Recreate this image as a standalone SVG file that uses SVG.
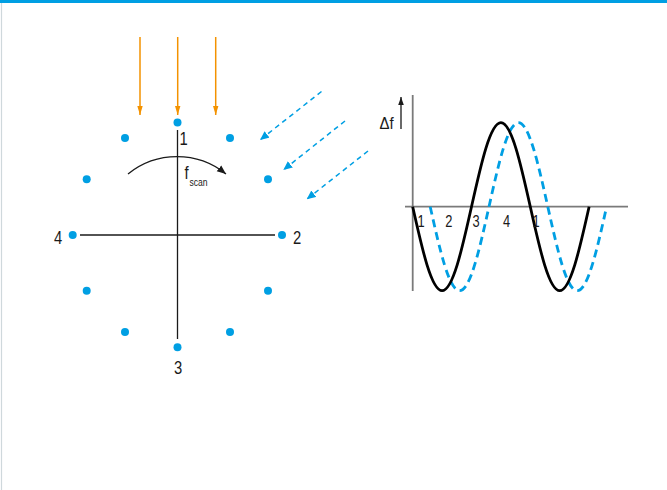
<svg xmlns="http://www.w3.org/2000/svg" width="667" height="490" viewBox="0 0 667 490">
<defs>
<style>
.lbl{font-family:"Liberation Sans",Arial,sans-serif;font-size:19px;fill:#1a1a1a;text-anchor:middle}
.glbl{font-family:"Liberation Sans",Arial,sans-serif;font-size:16.5px;fill:#1a1a1a;text-anchor:middle}
.dot{fill:#009fe3}
.orange{stroke:#f39200;stroke-width:1.5;fill:none}
.bluearr{stroke:#009fe3;stroke-width:1.5;fill:none;stroke-dasharray:5 4}
.axis{stroke:#1a1a1a;stroke-width:1.3;fill:none}
.gaxis{stroke:#7a7a7a;stroke-width:1.8;fill:none}
</style>
<marker id="mo" viewBox="0 0 10 10" refX="10" refY="5" markerWidth="9" markerHeight="9" markerUnits="userSpaceOnUse" orient="auto"><path d="M0,2 L10,5 L0,8 Z" fill="#f39200"/></marker>
<marker id="mb" viewBox="0 0 10 10" refX="10" refY="5" markerWidth="9" markerHeight="9" markerUnits="userSpaceOnUse" orient="auto"><path d="M0,0.5 L10,5 L0,9.5 Z" fill="#009fe3"/></marker>
<marker id="mk" viewBox="0 0 10 10" refX="10" refY="5" markerWidth="9" markerHeight="9" markerUnits="userSpaceOnUse" orient="auto"><path d="M0,1 L10,5 L0,9 Z" fill="#1a1a1a"/></marker>
<marker id="mk2" viewBox="0 0 10 10" refX="10" refY="5" markerWidth="8" markerHeight="8" markerUnits="userSpaceOnUse" orient="auto"><path d="M0,1.5 L10,5 L0,8.5 Z" fill="#1a1a1a"/></marker>
</defs>
<rect x="0" y="0" width="667" height="490" fill="#ffffff"/>
<rect x="0" y="0" width="667" height="3" fill="#009fe3"/>
<line x1="1.5" y1="3" x2="1.5" y2="490" stroke="#cfd8dc" stroke-width="1.2"/>

<g id="connectors">
<line class="orange" x1="140" y1="37" x2="140" y2="115" marker-end="url(#mo)"/>
<line class="orange" x1="177.7" y1="37" x2="177.7" y2="115" marker-end="url(#mo)"/>
<line class="orange" x1="215.7" y1="37" x2="215.7" y2="115" marker-end="url(#mo)"/>
<line class="bluearr" x1="321.5" y1="91.5" x2="260" y2="140" marker-end="url(#mb)"/>
<line class="bluearr" x1="345" y1="121" x2="283.3" y2="170" marker-end="url(#mb)"/>
<line class="bluearr" x1="368" y1="151" x2="306.7" y2="199.3" marker-end="url(#mb)"/>
<line class="axis" x1="177.5" y1="130" x2="177.5" y2="339"/>
<line class="axis" x1="80" y1="235" x2="275" y2="235"/>
<path class="axis" d="M128,174 A78,78 0 0 1 226,174" marker-end="url(#mk)"/>
</g>

<g id="array">
<circle class="dot" cx="177.5" cy="122.5" r="4"/>
<circle class="dot" cx="230" cy="138" r="4"/>
<circle class="dot" cx="268" cy="179.3" r="4"/>
<circle class="dot" cx="282" cy="235" r="4"/>
<circle class="dot" cx="268" cy="290.7" r="4"/>
<circle class="dot" cx="230" cy="332" r="4"/>
<circle class="dot" cx="177.5" cy="347.3" r="4"/>
<circle class="dot" cx="125" cy="332" r="4"/>
<circle class="dot" cx="86.7" cy="290.7" r="4"/>
<circle class="dot" cx="72.7" cy="235" r="4"/>
<circle class="dot" cx="86.7" cy="179.3" r="4"/>
<circle class="dot" cx="125" cy="138" r="4"/>
</g>

<g id="labels">
<text class="lbl" transform="translate(183.5,145) scale(0.78,1)">1</text>
<text class="lbl" transform="translate(297,244) scale(0.78,1)">2</text>
<text class="lbl" transform="translate(178,374) scale(0.78,1)">3</text>
<text class="lbl" transform="translate(58,244) scale(0.78,1)">4</text>
<text class="lbl" transform="translate(184.5,179) scale(0.78,1)" style="text-anchor:start">f<tspan font-size="11" dx="1" dy="7">scan</tspan></text>
</g>

<g id="graph">
<line class="gaxis" x1="412.7" y1="95" x2="412.7" y2="291"/>
<line class="gaxis" x1="405" y1="206.7" x2="628" y2="206.7"/>
<line x1="401" y1="129" x2="401" y2="97" stroke="#1a1a1a" stroke-width="1.3" marker-end="url(#mk2)"/>
<text class="glbl" transform="translate(379.5,129) scale(0.88,1)" style="text-anchor:start;font-size:17px">Δf</text>
<path d="M430.2,206.7 c9.59,43.03 18.760,84 29.4,84 c10.64,0 19.81,-40.97 29.4,-84 c9.59,-43.03 18.76,-84 29.4,-84 c10.64,0 19.81,40.97 29.4,84 c9.59,43.03 18.76,84 29.4,84 c10.64,0 19.81,-40.97 29.4,-84" fill="none" stroke="#009fe3" stroke-width="2.8" stroke-dasharray="8 5"/>
<path d="M412.7,206.7 c9.59,43.03 18.76,84 29.4,84 c10.64,0 19.81,-40.97 29.4,-84 c9.59,-43.03 18.76,-84 29.4,-84 c10.64,0 19.81,40.97 29.4,84 c9.59,43.03 18.76,84 29.4,84 c10.64,0 19.81,-40.97 29.4,-84" fill="none" stroke="#000" stroke-width="2.8"/>
<text class="glbl" transform="translate(421,226.7) scale(0.78,1)">1</text>
<text class="glbl" transform="translate(448.7,226.7) scale(0.78,1)">2</text>
<text class="glbl" transform="translate(476,226.7) scale(0.78,1)">3</text>
<text class="glbl" transform="translate(506.5,226.7) scale(0.78,1)">4</text>
<text class="glbl" transform="translate(536,226.7) scale(0.78,1)">1</text>
</g>
</svg>
